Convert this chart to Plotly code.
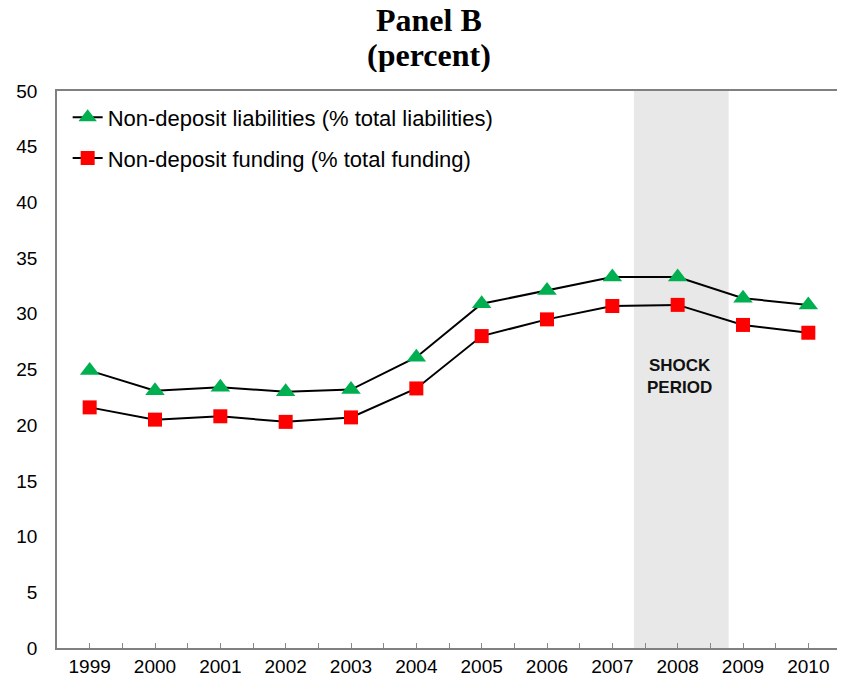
import plotly.graph_objects as go

years = [1999, 2000, 2001, 2002, 2003, 2004, 2005, 2006, 2007, 2008, 2009, 2010]
liabilities = [24.9, 23.1, 23.4, 23.0, 23.2, 26.1, 30.9, 32.1, 33.3, 33.3, 31.4, 30.8]
funding = [21.6, 20.5, 20.8, 20.3, 20.7, 23.3, 28.0, 29.5, 30.7, 30.8, 29.0, 28.3]
shock_start, shock_end = 2007.33, 2008.78

# ticks at category centres (labelled) and boundaries (blank)
tick_vals = [y + h for y in years for h in (0, 0.5)]
tick_text = [str(y) if h == 0 else '' for y in years for h in (0, 0.5)]

fig = go.Figure()
fig.add_vrect(x0=shock_start, x1=shock_end, fillcolor='#e8e8e8',
              line_width=0, layer='below')
fig.add_trace(go.Scatter(
    x=years, y=liabilities, mode='lines+markers',
    name='Non-deposit liabilities (% total liabilities)',
    line=dict(color='black', width=2), legendgroup='a',
    marker=dict(symbol='triangle-up', size=17, color='#00B050')))
fig.add_trace(go.Scatter(
    x=years, y=funding, mode='lines+markers',
    name='Non-deposit funding (% total funding)',
    line=dict(color='black', width=2), legendgroup='b',
    marker=dict(symbol='square', size=14, color='#FF0000')))

fig.add_annotation(x=2008.03, y=24.4, text='<b>SHOCK<br>PERIOD</b>',
                   showarrow=False, font=dict(size=17, color='#111'))

# two-line title
title_font = dict(family='Liberation Serif, Times New Roman', size=32, color='black')
fig.add_annotation(xref='paper', yref='paper', x=0.4746, y=1.127, height=34,
                   yanchor='middle', text='<b>Panel B</b>', showarrow=False,
                   font=title_font)
fig.add_annotation(xref='paper', yref='paper', x=0.4746, y=1.0646, height=34,
                   yanchor='middle', text='<b>(percent)</b>', showarrow=False,
                   font=title_font)

fig.update_layout(
    width=837, height=678,
    margin=dict(l=49, r=2, t=83, b=38),
    paper_bgcolor='white', plot_bgcolor='white',
    font=dict(family='Liberation Sans, Arial', size=19, color='black'),
    legend=dict(x=0.0136, y=0.99, xanchor='left', yanchor='top',
                font=dict(size=22), bgcolor='rgba(0,0,0,0)',
                tracegroupgap=9, itemwidth=30),
)
fig.update_xaxes(range=[1998.5, 2010.5], tickvals=tick_vals, ticktext=tick_text,
                 ticks='inside', ticklen=5, tickcolor='#888',
                 showgrid=False, showline=True, linecolor='#808080',
                 linewidth=1.5, mirror=True, zeroline=False)
fig.update_yaxes(range=[0, 50], dtick=5, showgrid=False, showline=True,
                 linecolor='#808080', linewidth=1.5, mirror=True,
                 zeroline=False, ticks='', ticklabelstandoff=14)

fig.write_html('out.html')
